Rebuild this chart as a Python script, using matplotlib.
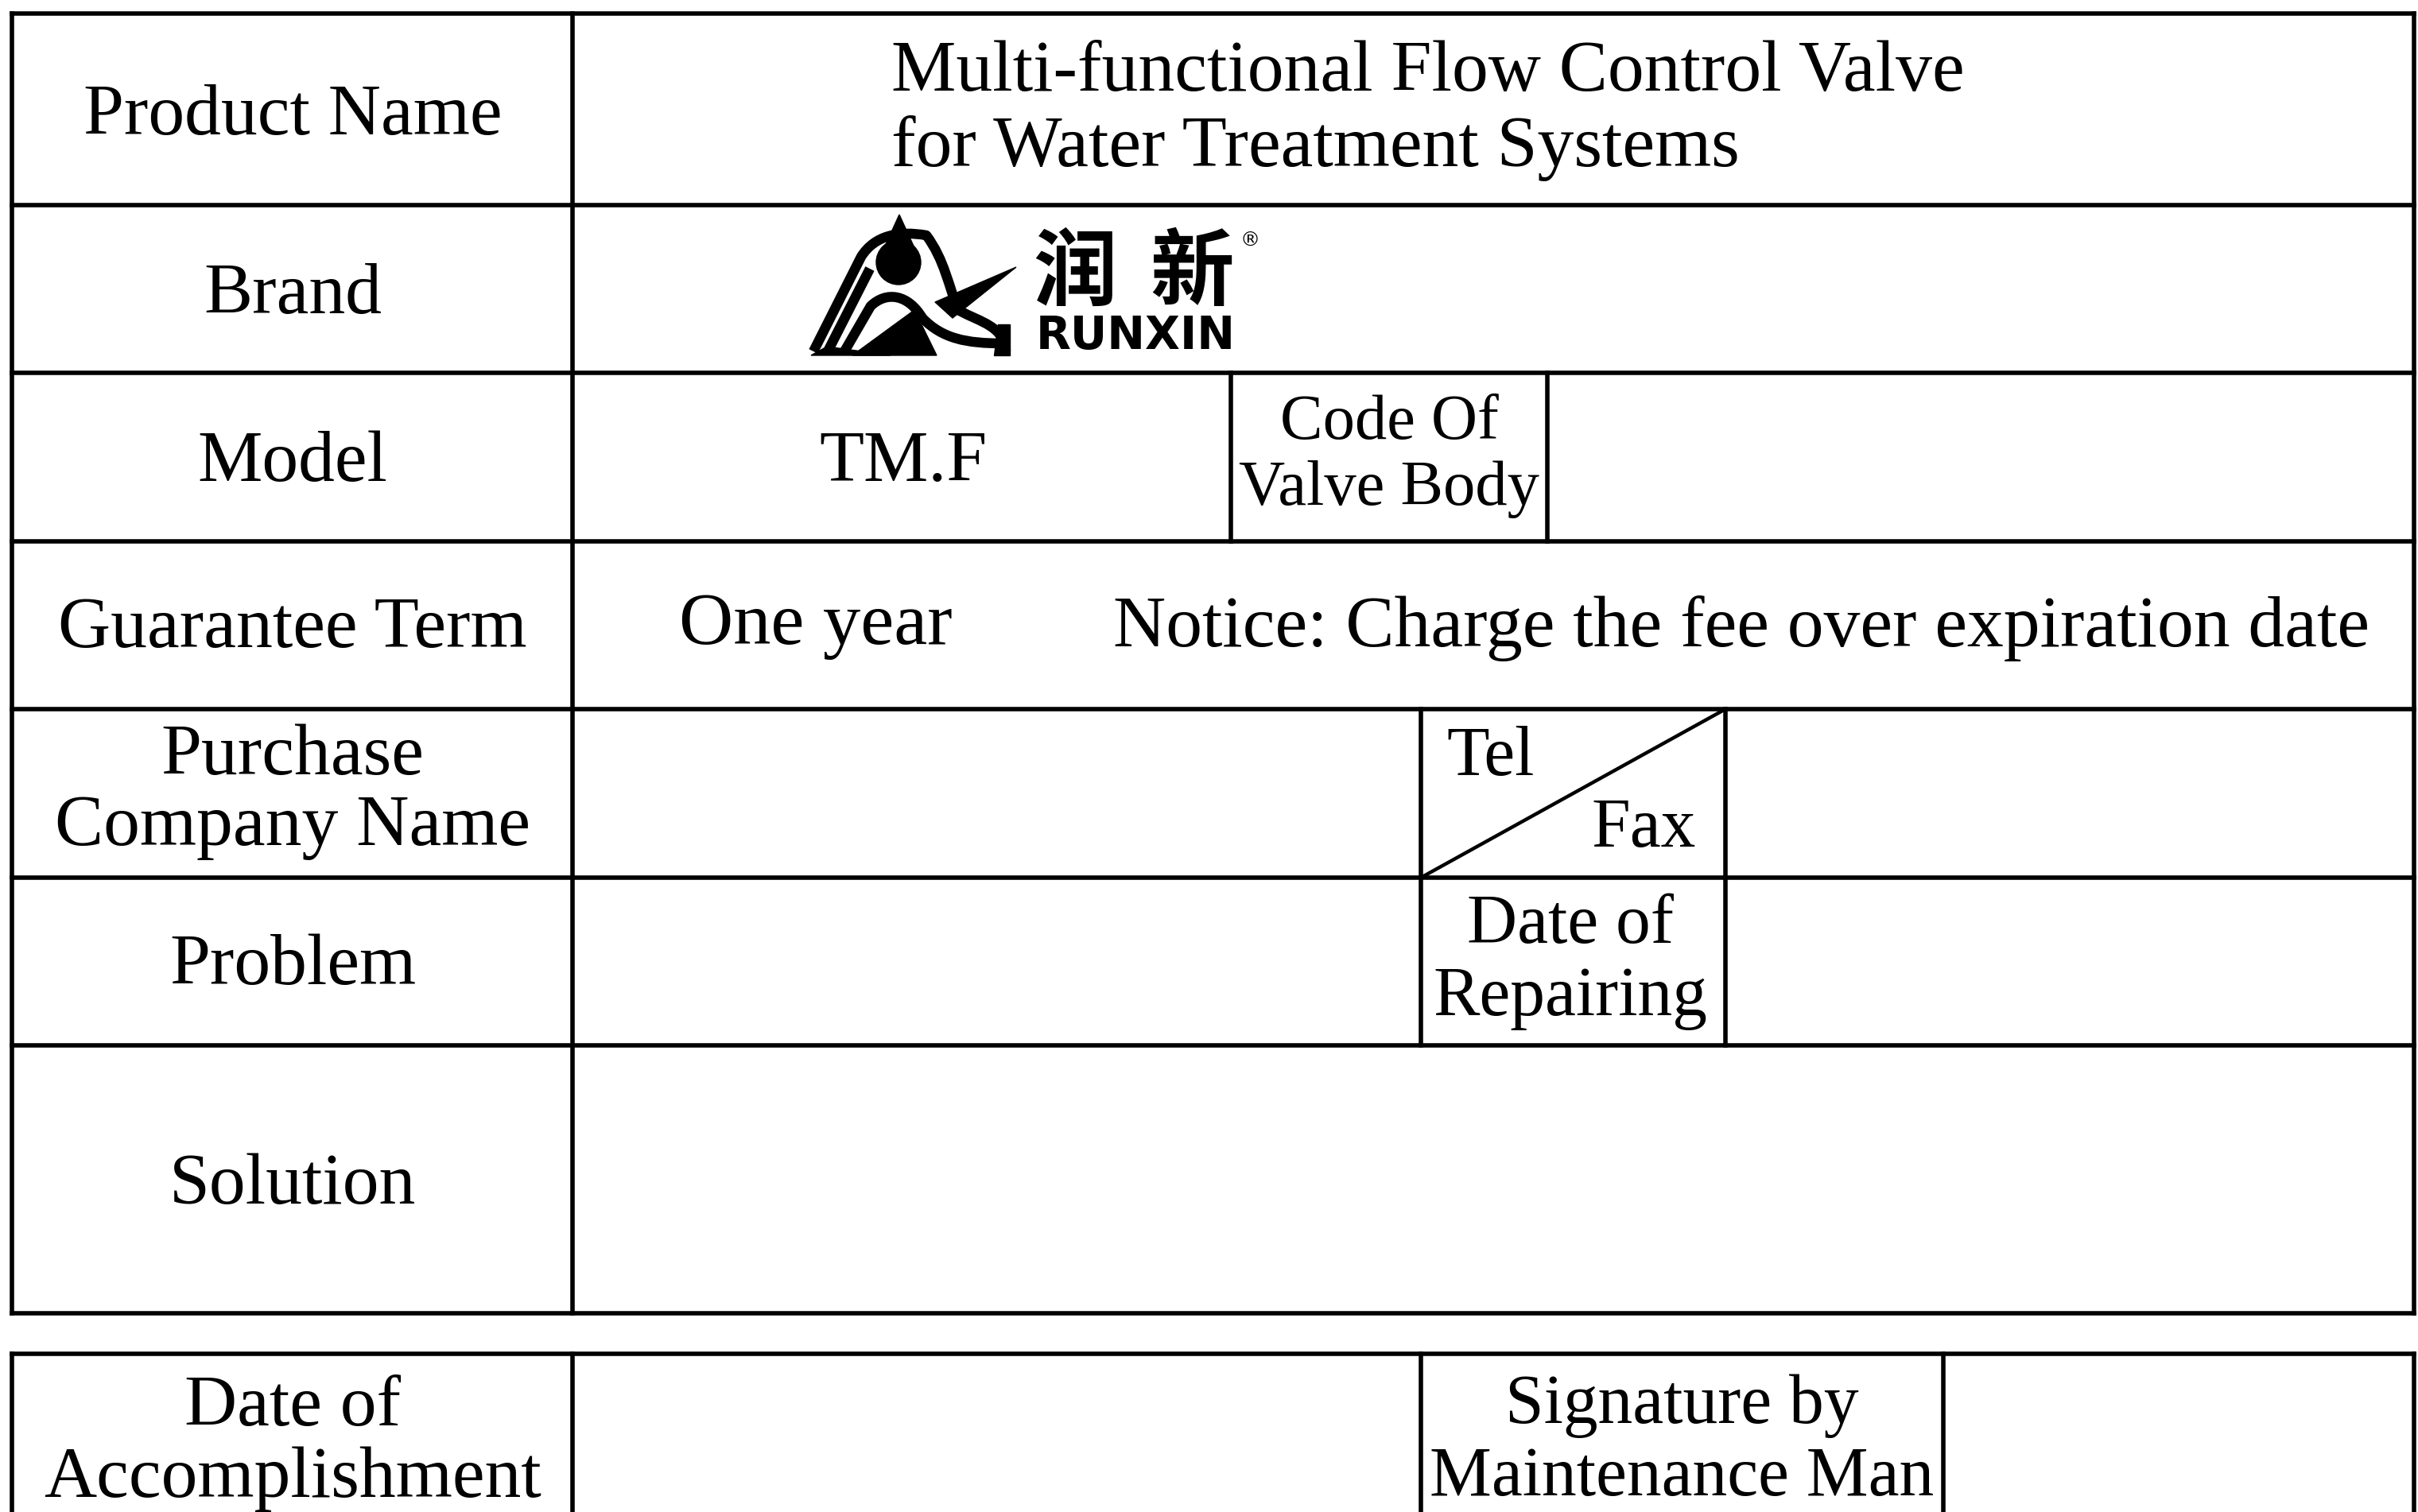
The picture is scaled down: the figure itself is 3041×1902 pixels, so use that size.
import matplotlib
matplotlib.use("Agg")
import matplotlib.pyplot as plt
from matplotlib.path import Path
from matplotlib.patches import PathPatch, Polygon, Circle

# ---------------- content ----------------
row_labels = ["Product Name", "Brand", "Model", "Guarantee Term",
              "Purchase\nCompany Name", "Problem", "Solution"]
product_name = ["Multi-functional Flow Control Valve", "for Water Treatment Systems"]
model_value = "TM.F"
code_label = "Code Of\nValve Body"
guarantee_value = "One year"
notice_text = "Notice: Charge the fee over expiration date"
tel_label = "Tel"
fax_label = "Fax"
repair_label = "Date of\nRepairing"
bottom_labels = ["Date of\nAccomplishment", "Signature by\nMaintenance Man"]
brand_cn = ["润", "新"]
brand_en = "RUNXIN"

# ---------------- layout (pixels) ----------------
W, H = 3041, 1902
fig = plt.figure(figsize=(W / 100, H / 100), dpi=100)
ax = fig.add_axes([0, 0, 1, 1])
ax.set_xlim(0, W)
ax.set_ylim(H, 0)
ax.axis("off")

SERIF = ["Liberation Serif", "DejaVu Serif"]
LW = 4.0
col_l, col_m, col_r = 15, 720, 3036
row_y = [17, 258, 469, 681, 892, 1104, 1315, 1652]
bot_top = 1703

def hline(y, x0=col_l, x1=col_r, lw=LW):
    ax.plot([x0, x1], [y, y], color="black", lw=lw, solid_capstyle="projecting")

def vline(x, y0, y1, lw=LW):
    ax.plot([x, x], [y0, y1], color="black", lw=lw, solid_capstyle="projecting")

# main table
for y in row_y:
    hline(y)
vline(col_l, row_y[0], row_y[-1])
vline(col_m, row_y[0], row_y[-1])
vline(col_r, row_y[0], row_y[-1])
# model row split
vline(1548, row_y[2], row_y[3])
vline(1946, row_y[2], row_y[3])
# tel/fax + repairing split
vline(1787, row_y[4], row_y[6])
vline(2170, row_y[4], row_y[6])
ax.plot([1787, 2170], [row_y[5], row_y[4]], color="black", lw=3.2)

# bottom table
hline(bot_top)
vline(col_l, bot_top, H + 10)
vline(col_m, bot_top, H + 10)
vline(1787, bot_top, H + 10)
vline(2444, bot_top, H + 10)
vline(col_r, bot_top, H + 10)

# ---------------- texts ----------------
lab_x = 368
lab_fs = 66
row_centers = [147, 372, 583, 792, 996, 1216, 1492]
for lab, yc in zip(row_labels, row_centers):
    ax.text(lab_x, yc, lab, family=SERIF, fontsize=lab_fs, ha="center",
            va="center", multialignment="center", linespacing=1.1)

ax.text(1121, 92, product_name[0], family=SERIF, fontsize=lab_fs, ha="left", va="center")
ax.text(1121, 186, product_name[1], family=SERIF, fontsize=lab_fs, ha="left", va="center")

ax.text(1136, 583, model_value, family=SERIF, fontsize=lab_fs, ha="center", va="center")
ax.text(1747, 574, code_label, family=SERIF, fontsize=58, ha="center", va="center",
        multialignment="center", linespacing=1.17)

ax.text(1026, 788, guarantee_value, family=SERIF, fontsize=68, ha="center", va="center")
ax.text(2190, 790, notice_text, family=SERIF, fontsize=66, ha="center", va="center")

ax.text(1819, 954, tel_label, family=SERIF, fontsize=63, ha="left", va="center")
ax.text(2133, 1044, fax_label, family=SERIF, fontsize=63, ha="right", va="center")
ax.text(1975, 1210, repair_label, family=SERIF, fontsize=63, ha="center", va="center",
        multialignment="center", linespacing=1.15)

ax.text(lab_x, 1816, bottom_labels[0], family=SERIF, fontsize=lab_fs, ha="center",
        va="center", multialignment="center", linespacing=1.12)
ax.text(2115, 1814, bottom_labels[1], family=SERIF, fontsize=63, ha="center",
        va="center", multialignment="center", linespacing=1.15)

# ---------------- logo ----------------
ox, oy = 1000, 260
def P(pts):
    return [(ox + x, oy + y) for x, y in pts]

stroke = dict(facecolor="none", edgecolor="black", lw=9, capstyle="butt", joinstyle="round")
outer = P([(23, 182), (83, 63), (100, 36), (130, 30), (165, 36), (188, 67), (193, 100),
           (205, 130), (235, 146), (262, 150), (265, 182)])
codes = [Path.MOVETO, Path.LINETO, Path.CURVE4, Path.CURVE4, Path.CURVE4, Path.CURVE4,
         Path.CURVE4, Path.CURVE4, Path.CURVE4, Path.LINETO, Path.LINETO]
ax.add_patch(PathPatch(Path(outer, codes), **stroke))
inner_leg = P([(42, 180), (94, 78)])
ax.add_patch(PathPatch(Path(inner_leg), **stroke))
arch2 = P([(62, 182), (95, 125), (115, 106), (142, 110), (160, 140), (185, 166),
           (215, 172), (262, 172)])
codes2 = [Path.MOVETO, Path.LINETO, Path.CURVE4, Path.CURVE4, Path.CURVE4, Path.CURVE4,
          Path.CURVE4, Path.LINETO]
ax.add_patch(PathPatch(Path(arch2, codes2), **stroke))
ax.add_patch(Polygon(P([(20, 187), (120, 187), (40, 176)]), closed=True, color="black"))
ax.add_patch(Polygon(P([(72, 187), (150, 130), (178, 187)]), closed=True, color="black"))
ax.add_patch(Polygon(P([(255, 148), (270, 148), (270, 187), (250, 187)]), closed=True, color="black"))
ax.add_patch(Polygon(P([(176, 120), (278, 76), (198, 140)]), closed=True, color="black"))
ax.add_patch(Circle((ox + 130, oy + 70), 28, color="black"))
ax.add_patch(Polygon(P([(131, 10), (110, 56), (152, 56)]), closed=True, color="black"))

CJK = ["Noto Sans CJK SC", "DejaVu Sans"]
ax.text(1352, 345, brand_cn[0], family=CJK, fontweight="bold", fontsize=76,
        ha="center", va="center")
ax.text(1499, 345, brand_cn[1], family=CJK, fontweight="bold", fontsize=76,
        ha="center", va="center")
ax.text(1572, 303, "®", family=["DejaVu Sans"], fontsize=18, ha="center", va="center")
ax.text(1428, 424, brand_en, family=["DejaVu Sans"], fontweight="heavy", fontsize=41,
        ha="center", va="center")

fig.savefig("out.png", dpi=100, facecolor="white")
